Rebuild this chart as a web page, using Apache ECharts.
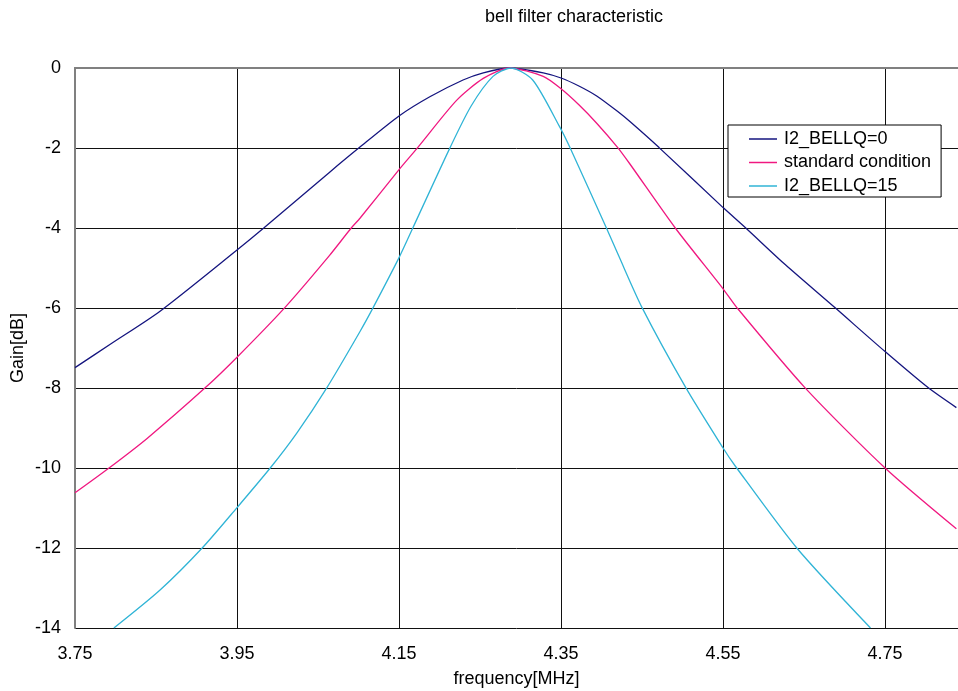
<!DOCTYPE html>
<html>
<head>
<meta charset="utf-8">
<script src="https://cdn.jsdelivr.net/npm/echarts@6/dist/echarts.min.js"></script>
<style>
  html, body { margin: 0; padding: 0; background: #fff; }
  #chart { width: 958px; height: 691px; }
</style>
</head>
<body>
<div id="chart"></div>
<script>
const seriesNames = ["I2_BELLQ=0", "standard condition", "I2_BELLQ=15"];

const freqQ0 = [3.75, 3.794, 3.855, 3.95, 3.983, 4.064, 4.101, 4.15, 4.188, 4.229, 4.254, 4.286,
  4.328, 4.35, 4.372, 4.394, 4.42, 4.435, 4.471, 4.55, 4.578, 4.627, 4.688, 4.75, 4.803, 4.838];
const gainQ0 = [-7.49, -6.9, -6.08, -4.55, -4.0, -2.61, -1.99, -1.2, -0.72, -0.3, -0.12, 0,
  -0.12, -0.25, -0.45, -0.7, -1.09, -1.34, -1.99, -3.49, -4.0, -4.92, -5.99, -7.09, -7.99, -8.49];

const freqStd = [3.75, 3.792, 3.839, 3.911, 3.95, 4.009, 4.064, 4.091, 4.102, 4.15, 4.173, 4.221,
  4.254, 4.286, 4.328, 4.35, 4.372, 4.394, 4.42, 4.435, 4.491, 4.55, 4.567, 4.651, 4.75, 4.838];
const gainStd = [-10.62, -10.0, -9.26, -7.99, -7.23, -5.99, -4.69, -4.0, -3.75, -2.54, -1.99, -0.81,
  -0.26, 0, -0.21, -0.52, -0.92, -1.38, -1.99, -2.4, -4.0, -5.52, -5.99, -7.99, -10.0, -11.52];

const freqQ15 = [3.798, 3.855, 3.907, 3.95, 3.991, 4.024, 4.061, 4.102, 4.118, 4.15, 4.167, 4.213,
  4.239, 4.266, 4.288, 4.315, 4.348, 4.361, 4.406, 4.421, 4.45, 4.504, 4.55, 4.565, 4.641, 4.732];
const gainQ15 = [-14.0, -13.05, -12.0, -10.99, -10.0, -9.12, -7.99, -6.58, -5.99, -4.74, -4.0, -1.99,
  -0.95, -0.21, 0, -0.3, -1.46, -1.99, -4.0, -4.69, -5.99, -7.99, -9.5, -9.95, -12.0, -14.0];

const xTicks = [3.75, 3.95, 4.15, 4.35, 4.55, 4.75];

function pairs(xs, ys) {
  return xs.map((x, i) => [x, ys[i]]);
}

const font = "'Liberation Sans', Arial, sans-serif";
const chart = echarts.init(document.getElementById("chart"));

chart.setOption({
  animation: false,
  color: ["#15157f", "#f01880", "#30b4d6"],
  textStyle: { fontFamily: font },
  title: {
    text: "bell filter characteristic",
    left: 480,
    top: 3,
    textStyle: { fontSize: 18, fontWeight: "normal", color: "#000", fontFamily: font }
  },
  legend: {
    orient: "vertical",
    left: 728,
    top: 125,
    padding: [5, 10, 2, 21],
    icon: "rect",
    itemWidth: 28,
    itemHeight: 1.5,
    itemGap: 5.5,
    backgroundColor: "#fff",
    borderColor: "#000",
    borderWidth: 1,
    textStyle: { fontSize: 18, color: "#000", fontFamily: font, padding: [0, 0, 0, 2] },
    data: seriesNames
  },
  grid: {
    left: 75,
    top: 68,
    bottom: 63,
    right: 0,
    containLabel: false,
    outerBoundsMode: "none"
  },
  xAxis: [
    {
      type: "value",
      min: 3.75,
      max: 4.84,
      interval: 0.2,
      name: "frequency[MHz]",
      nameLocation: "middle",
      nameGap: 42,
      nameMoveOverlap: false,
      nameTextStyle: { fontSize: 18, color: "#000", fontFamily: font },
      axisLine: { show: true, lineStyle: { color: "#808080", width: 2 } },
      axisTick: { show: false },
      axisLabel: {
        fontSize: 18,
        color: "#000",
        margin: 17,
        showMaxLabel: false,
        formatter: (v) => {
          const hit = xTicks.find((t) => Math.abs(t - v) < 1e-6);
          return hit === undefined ? "" : hit.toFixed(2);
        }
      },
      splitLine: { show: true, lineStyle: { color: "#111", width: 1 } }
    },
    {
      type: "value",
      position: "top",
      min: 3.75,
      max: 4.84,
      axisLine: { show: true, lineStyle: { color: "#808080", width: 2 } },
      axisTick: { show: false },
      axisLabel: { show: false },
      splitLine: { show: false }
    }
  ],
  yAxis: {
    type: "value",
    min: -14,
    max: 0,
    interval: 2,
    name: "Gain[dB]",
    nameLocation: "middle",
    nameGap: 48,
    nameMoveOverlap: false,
    nameTextStyle: { fontSize: 18, color: "#000", fontFamily: font },
    axisLine: { show: true, lineStyle: { color: "#808080", width: 2 } },
    axisTick: { show: false },
    axisLabel: { fontSize: 18, color: "#000", margin: 14 },
    splitLine: { show: true, lineStyle: { color: "#111", width: 1 } }
  },
  series: [
    {
      name: seriesNames[0],
      type: "line",
      symbol: "none",
      smooth: 0.25,
      lineStyle: { width: 1.3 },
      data: pairs(freqQ0, gainQ0)
    },
    {
      name: seriesNames[1],
      type: "line",
      symbol: "none",
      smooth: 0.25,
      lineStyle: { width: 1.3 },
      data: pairs(freqStd, gainStd)
    },
    {
      name: seriesNames[2],
      type: "line",
      symbol: "none",
      smooth: 0.25,
      lineStyle: { width: 1.3 },
      data: pairs(freqQ15, gainQ15)
    }
  ]
});
</script>
</body>
</html>
